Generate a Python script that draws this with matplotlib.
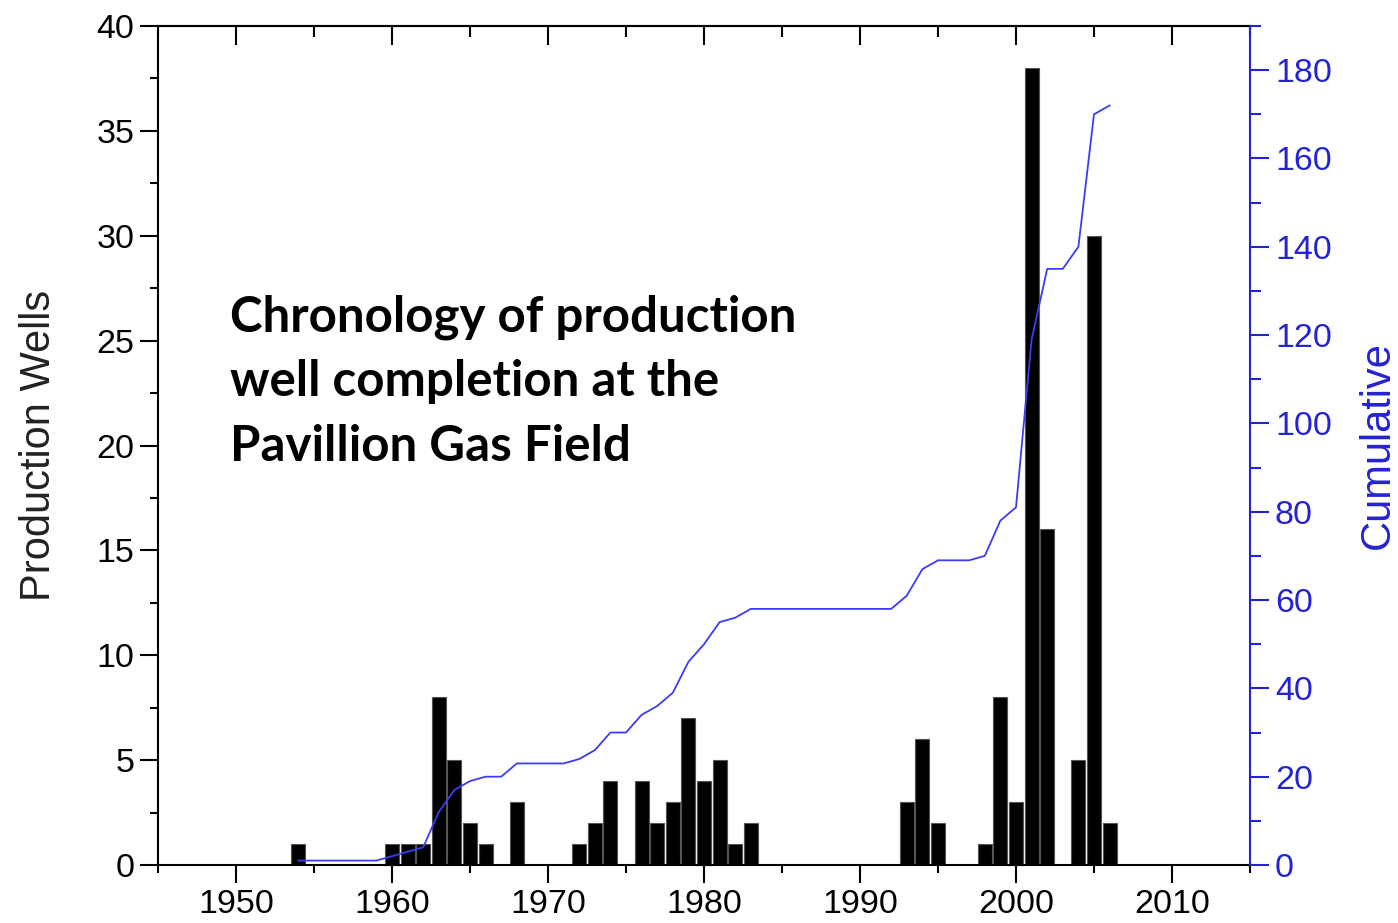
import numpy as np
import matplotlib.pyplot as plt
from matplotlib.ticker import MultipleLocator

# Pozos terminados por año (solo años con pozos)
years = [1954, 1960, 1961, 1962, 1963, 1964, 1965, 1966, 1968,
         1972, 1973, 1974, 1976, 1977, 1978, 1979, 1980, 1981, 1982, 1983,
         1993, 1994, 1995, 1998, 1999, 2000, 2001, 2002, 2004, 2005, 2006]
wells = [1, 1, 1, 1, 8, 5, 2, 1, 3,
         1, 2, 4, 4, 2, 3, 7, 4, 5, 1, 2,
         3, 6, 2, 1, 8, 3, 38, 16, 5, 30, 2]

titulo = "Chronology of production\nwell completion at the\nPavillion Gas Field"

# acumulado año por año desde el primer pozo
cum_years = np.arange(years[0], years[-1] + 1)
por_anio = dict(zip(years, wells))
cumulative = np.cumsum([por_anio.get(y, 0) for y in cum_years])

azul = '#2323d2'
linea = '#3c3cf5'

plt.rcParams['font.family'] = ['Liberation Sans', 'DejaVu Sans']

fig = plt.figure(figsize=(13.98, 9.23), dpi=100)
ax = fig.add_axes([158 / 1398, 1 - 865 / 923, (1250 - 158) / 1398, (865 - 26) / 923])

ax.bar(years, wells, width=0.9, color='black', edgecolor='#555555', linewidth=0.8, zorder=2)
ax.set_xlim(1945, 2015)
ax.set_ylim(0, 40)

ax.xaxis.set_major_locator(MultipleLocator(10))
ax.xaxis.set_minor_locator(MultipleLocator(5))
ax.yaxis.set_major_locator(MultipleLocator(5))
ax.yaxis.set_minor_locator(MultipleLocator(2.5))
ax.tick_params(which='major', direction='out', length=13, width=1.5, labelsize=24.5, pad=4)
ax.tick_params(which='minor', direction='out', length=6, width=1.5)
ax.tick_params(axis='x', top=False, which='both')
ax.tick_params(axis='y', right=False, which='both')
ax.set_ylabel("Production Wells", fontsize=30, labelpad=27, color='#222222')
for s in ['left', 'top', 'bottom']:
    ax.spines[s].set_linewidth(1.5)
ax.spines['right'].set_visible(False)

# eje superior: marcas hacia adentro, sin etiquetas
top = ax.secondary_xaxis('top')
top.xaxis.set_major_locator(MultipleLocator(10))
top.xaxis.set_minor_locator(MultipleLocator(5))
top.tick_params(which='major', direction='in', length=14, width=1.5, labeltop=False)
top.tick_params(which='minor', direction='in', length=8, width=1.5)
top.spines['top'].set_linewidth(1.5)

ax2 = ax.twinx()
ax2.plot(cum_years, cumulative, color=linea, linewidth=1.3, zorder=3)
ax2.set_ylim(0, 190)
ax2.yaxis.set_major_locator(MultipleLocator(20))
ax2.yaxis.set_minor_locator(MultipleLocator(10))
ax2.tick_params(which='major', direction='out', length=14, width=1.5, labelsize=24.5,
                colors=azul, pad=4)
ax2.tick_params(which='minor', direction='out', length=8, width=1.5, colors=azul)
ax2.spines['right'].set_color(azul)
ax2.spines['right'].set_linewidth(1.5)
for s in ['left', 'top', 'bottom']:
    ax2.spines[s].set_visible(False)
ax2.set_ylabel("Cumulative", fontsize=30, color=azul, labelpad=19)
ax2.set_yticks(np.arange(0, 181, 20))

fig.text(230 / 1398, 1 - 294 / 923, titulo, fontsize=35.5, fontweight='bold',
         family=['Lato', 'DejaVu Sans'], va='top', ha='left', linespacing=1.53)

plt.savefig("out.png", dpi=100)
